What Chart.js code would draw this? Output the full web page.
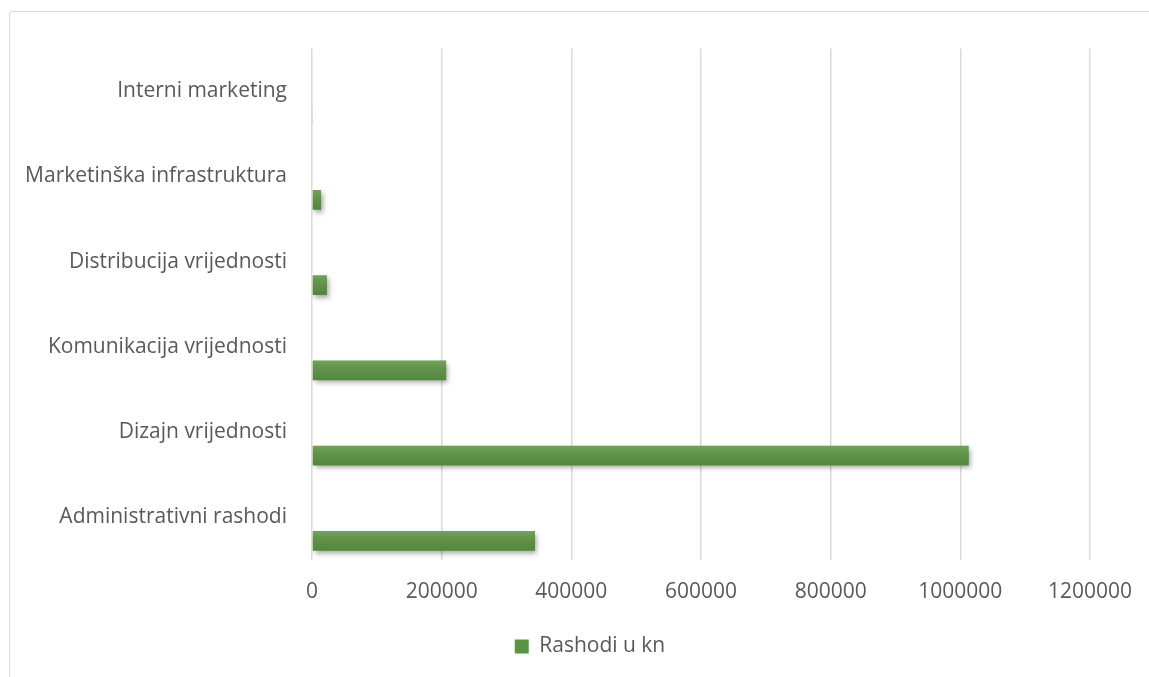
<!DOCTYPE html>
<html>
<head>
<meta charset="utf-8">
<script src="https://cdn.jsdelivr.net/npm/chart.js@4"></script>
<style>
    html, body { margin: 0; padding: 0; background: #fff; overflow: hidden; }
    #frame {
        position: absolute; left: 9px; top: 11px;
        width: 1220px; height: 720px;
        border: 1.5px solid #d9d9d9; border-radius: 3px;
        box-sizing: border-box;
    }
    #wrap { position: absolute; left: 9px; top: 11px; width: 1162px; height: 680px; }
</style>
</head>
<body>
<div id="frame"></div>
<div id="wrap"><canvas id="barChart"></canvas></div>
<script>
// kategorije od vrha prema dnu, kako se vide na grafu
const categories = [
    "Interni marketing",
    "Marketinška infrastruktura",
    "Distribucija vrijednosti",
    "Komunikacija vrijednosti",
    "Dizajn vrijednosti",
    "Administrativni rashodi"
];
const rashodi = [1000, 14000, 23000, 207000, 1013000, 344000];
const emptySeries = [0, 0, 0, 0, 0, 0];
const seriesName = "Rashodi u kn";
const xTicks = [0, 200000, 400000, 600000, 800000, 1000000, 1200000];

const textColor = "#595959";
const fontFamily = "'Open Sans', sans-serif";

// sjena i blagi gradijent na stupcima
const barStyle = {
    id: "barStyle",
    beforeDatasetsDraw(chart) {
        const ctx = chart.ctx;
        ctx.save();
        ctx.shadowColor = "rgba(0,0,0,0.35)";
        ctx.shadowBlur = 5;
        ctx.shadowOffsetX = 2;
        ctx.shadowOffsetY = 3;
    },
    afterDatasetsDraw(chart) {
        const ctx = chart.ctx;
        ctx.restore();
        const meta = chart.getDatasetMeta(1);
        meta.data.forEach((bar) => {
            const p = bar.getProps(["x", "y", "base", "height"], true);
            const top = p.y - p.height / 2;
            const g = ctx.createLinearGradient(0, top, 0, top + p.height);
            g.addColorStop(0, "rgba(255,255,255,0.14)");
            g.addColorStop(1, "rgba(0,0,0,0.08)");
            ctx.fillStyle = g;
            ctx.fillRect(p.base, top, p.x - p.base, p.height);
        });
    }
};

const ctx = document.getElementById("barChart").getContext("2d");
new Chart(ctx, {
    type: "bar",
    data: {
        labels: categories,
        datasets: [
            {
                label: "",
                data: emptySeries,
                backgroundColor: "rgba(0,0,0,0)",
                categoryPercentage: 1.1,
                barPercentage: 0.42
            },
            {
                label: seriesName,
                data: rashodi,
                backgroundColor: "#5a9440",
                borderWidth: 0,
                categoryPercentage: 1.1,
                barPercentage: 0.42
            }
        ]
    },
    options: {
        indexAxis: "y",
        responsive: true,
        maintainAspectRatio: false,
        animation: false,
        layout: { padding: { top: 30, right: 0, bottom: 24, left: 0 } },
        scales: {
            x: {
                min: 0,
                max: 1200000,
                afterBuildTicks: (scale) => {
                    scale.ticks = xTicks.map((v) => ({ value: v }));
                },
                afterFit: (scale) => { scale.height = 66; },
                grid: { color: "#d9d9d9", lineWidth: 1.5, drawTicks: false },
                border: { display: false },
                ticks: {
                    color: textColor,
                    padding: 19,
                    font: { family: fontFamily, size: 21 },
                    callback: (v) => String(v)
                }
            },
            y: {
                afterFit: (scale) => { scale.width = 303; },
                grid: { display: false, drawTicks: false },
                border: { display: false },
                ticks: {
                    color: textColor,
                    padding: 25,
                    font: { family: fontFamily, size: 21 }
                }
            },
            // prazna os desno, samo drži razmak do ruba
            yRight: {
                position: "right",
                type: "category",
                afterFit: (scale) => { scale.width = 81; },
                grid: { display: false, drawTicks: false },
                border: { display: false },
                ticks: { display: false }
            }
        },
        plugins: {
            legend: {
                position: "bottom",
                labels: {
                    color: textColor,
                    boxWidth: 14,
                    boxHeight: 14,
                    padding: 10,
                    font: { family: fontFamily, size: 21 },
                    filter: (item) => item.text !== ""
                }
            },
            tooltip: { enabled: false }
        }
    },
    plugins: [barStyle]
});
</script>
</body>
</html>
